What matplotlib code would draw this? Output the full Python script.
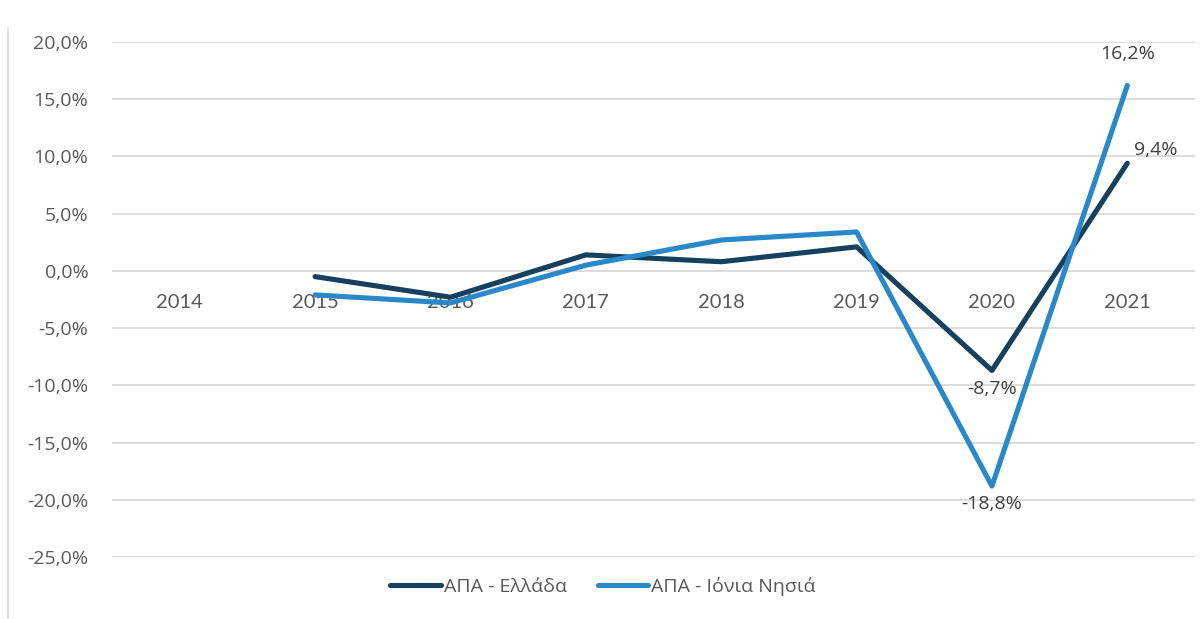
import matplotlib.pyplot as plt
from matplotlib.lines import Line2D

# data (annual % change)
years = ['2014', '2015', '2016', '2017', '2018', '2019', '2020', '2021']
greece = [None, -0.5, -2.3, 1.4, 0.8, 2.1, -8.7, 9.4]
ionian = [None, -2.1, -2.8, 0.5, 2.7, 3.4, -18.8, 16.2]
yticks = [20, 15, 10, 5, 0, -5, -10, -15, -20, -25]
label_greece = 'ΑΠΑ - Ελλάδα'
label_ionian = 'ΑΠΑ - Ιόνια Νησιά'

dark = '#17405f'
light = '#2a87c8'
txt = '#404040'

plt.rcParams['font.family'] = ['Open Sans', 'DejaVu Sans']

fig = plt.figure(figsize=(12, 6.19), dpi=100)
ax = fig.add_axes([112 / 1200, 1 - 557 / 619, 1083 / 1200, 515 / 619])

xs = list(range(len(years)))
g_x = [x for x, v in zip(xs, greece) if v is not None]
g_y = [v for v in greece if v is not None]
i_x = [x for x, v in zip(xs, ionian) if v is not None]
i_y = [v for v in ionian if v is not None]

ax.plot(g_x, g_y, color=dark, lw=3.7, solid_capstyle='round', solid_joinstyle='round',
        label=label_greece, zorder=3)
ax.plot(i_x, i_y, color=light, lw=3.7, solid_capstyle='round', solid_joinstyle='round',
        label=label_ionian, zorder=4)

ax.set_xlim(-0.5, len(years) - 0.5)
ax.set_ylim(-25, 20)
ax.set_yticks(yticks)
ax.set_yticklabels([f'{t:.1f}%'.replace('.', ',') for t in yticks],
                   fontsize=14, color='#595959')
ax.tick_params(axis='y', length=0, pad=17)
ax.set_xticks([])
ax.grid(axis='y', color='#d9d9d9', lw=1.3)
ax.set_axisbelow(True)
for s in ax.spines.values():
    s.set_visible(False)

# category labels sit under the zero line
for x, y in zip(xs, years):
    ax.annotate(y, (x, 0), xytext=(0, -32), textcoords='offset pixels',
                ha='center', va='center', fontsize=14.5, color='#595959', zorder=2,
                family=['Lato', 'DejaVu Sans'])

# data labels for the last two years
def fmt(v):
    return f'{v:.1f}%'.replace('.', ',')

ax.annotate(fmt(greece[6]), (6, greece[6]), xytext=(0, -19), textcoords='offset pixels',
            ha='center', va='center', fontsize=14, color=txt, zorder=5)
ax.annotate(fmt(ionian[6]), (6, ionian[6]), xytext=(0, -18), textcoords='offset pixels',
            ha='center', va='center', fontsize=14, color=txt, zorder=5)
ax.annotate(fmt(greece[7]), (7, greece[7]), xytext=(28, 13), textcoords='offset pixels',
            ha='center', va='center', fontsize=14, color=txt, zorder=5)
ax.annotate(fmt(ionian[7]), (7, ionian[7]), xytext=(0, 31), textcoords='offset pixels',
            ha='center', va='center', fontsize=14, color=txt, zorder=5)

# chart frame edge on the left
fig.add_artist(Line2D([8 / 1200, 8 / 1200], [0, 1 - 28 / 619], color='#d9d9d9', lw=1.2))

fig.legend(loc='center', bbox_to_anchor=(603 / 1200, 1 - 586 / 619), ncol=2, frameon=False,
           fontsize=14, labelcolor='#595959', handlelength=2.6, handletextpad=0.15,
           columnspacing=1.6)

fig.savefig('out.png', dpi=100)
